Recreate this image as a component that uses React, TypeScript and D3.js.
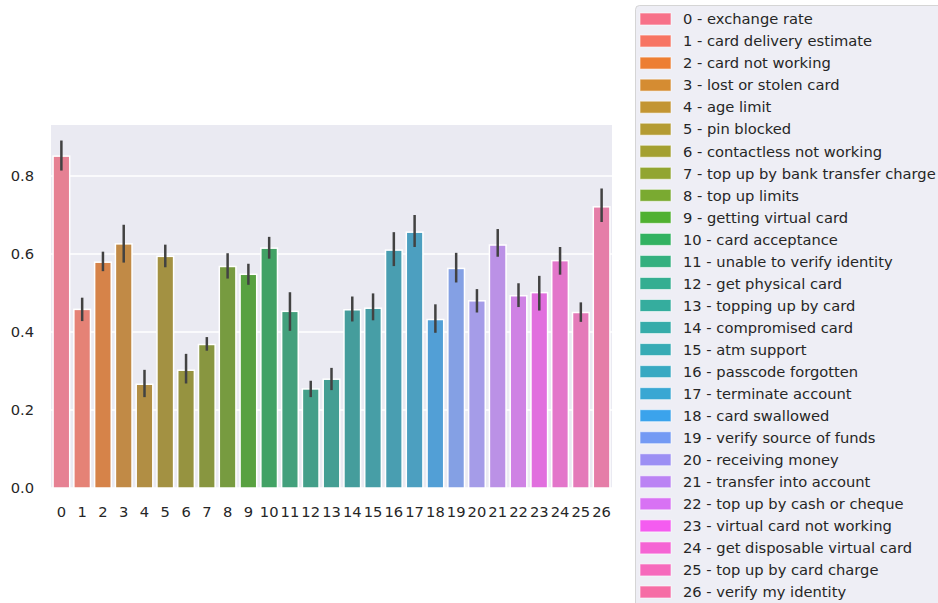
import { useEffect, useRef } from "react";
import * as d3 from "d3";

// intent labels, in category order
const labels = [
	"exchange rate",
	"card delivery estimate",
	"card not working",
	"lost or stolen card",
	"age limit",
	"pin blocked",
	"contactless not working",
	"top up by bank transfer charge",
	"top up limits",
	"getting virtual card",
	"card acceptance",
	"unable to verify identity",
	"get physical card",
	"topping up by card",
	"compromised card",
	"atm support",
	"passcode forgotten",
	"terminate account",
	"card swallowed",
	"verify source of funds",
	"receiving money",
	"transfer into account",
	"top up by cash or cheque",
	"virtual card not working",
	"get disposable virtual card",
	"top up by card charge",
	"verify my identity",
];

const means = [
	0.851, 0.458, 0.579, 0.626, 0.266, 0.594, 0.302, 0.368, 0.568, 0.548, 0.615,
	0.453, 0.254, 0.279, 0.457, 0.461, 0.61, 0.656, 0.432, 0.563, 0.48, 0.623,
	0.493, 0.501, 0.583, 0.45, 0.721,
];
const ciLow = [
	0.814, 0.428, 0.556, 0.578, 0.233, 0.566, 0.268, 0.352, 0.537, 0.521, 0.588,
	0.403, 0.233, 0.251, 0.427, 0.43, 0.569, 0.618, 0.398, 0.527, 0.45, 0.593,
	0.464, 0.455, 0.547, 0.426, 0.682,
];
const ciHigh = [
	0.891, 0.488, 0.606, 0.675, 0.303, 0.624, 0.344, 0.387, 0.602, 0.575, 0.644,
	0.502, 0.275, 0.308, 0.491, 0.499, 0.656, 0.7, 0.471, 0.603, 0.51, 0.664,
	0.525, 0.544, 0.618, 0.476, 0.768,
];
const yTicks = [0, 0.2, 0.4, 0.6, 0.8];

// --- husl (seaborn's husl_palette) ---
const M = [
	[3.2406, -1.5372, -0.4986],
	[-0.9689, 1.8758, 0.0415],
	[0.0557, -0.204, 1.057],
];
const refU = 0.19784;
const refV = 0.46834;

function maxChroma(L: number, H: number) {
	const hrad = (H / 180) * Math.PI;
	const sinH = Math.sin(hrad);
	const cosH = Math.cos(hrad);
	const sub1 = Math.pow(L + 16, 3) / 1560896;
	const sub2 = sub1 > 0.008856 ? sub1 : L / 903.3;
	let result = Infinity;
	for (const [m1, m2, m3] of M) {
		const top = (0.99915 * m1 + 1.05122 * m2 + 1.1446 * m3) * sub2;
		const rbottom = 0.8633 * m3 - 0.17266 * m2;
		const lbottom = 0.12949 * m3 - 0.38848 * m1;
		const bottom = (rbottom * sinH + lbottom * cosH) * sub2;
		for (const t of [0, 1]) {
			const C = (L * (top - 1.05122 * t)) / (bottom + 0.17266 * sinH * t);
			if (C > 0 && C < result) result = C;
		}
	}
	return result;
}

function huslToRgb(H: number, S: number, L: number) {
	const C = (maxChroma(L, H) / 100) * S;
	const hrad = (H / 180) * Math.PI;
	const U = Math.cos(hrad) * C;
	const V = Math.sin(hrad) * C;
	const t = (L + 16) / 116;
	const varY = Math.pow(t, 3) > 0.008856 ? Math.pow(t, 3) : (116 * t - 16) / 903.3;
	const varU = U / (13 * L) + refU;
	const varV = V / (13 * L) + refV;
	const Y = varY;
	const X = 0 - (9 * Y * varU) / ((varU - 4) * varV - varU * varV);
	const Z = (9 * Y - 15 * varV * Y - varV * X) / (3 * varV);
	const rgb = M.map((row) => {
		const c = row[0] * X + row[1] * Y + row[2] * Z;
		const v = c <= 0.0031308 ? 12.92 * c : 1.055 * Math.pow(c, 1 / 2.4) - 0.055;
		return Math.max(0, Math.min(1, v)) * 255;
	});
	return d3.rgb(rgb[0], rgb[1], rgb[2]);
}

const n = labels.length;
const palette = d3.range(n).map((i) => {
	const h = ((i / n + 0.01) % 1) * 359;
	return huslToRgb(h, 0.9 * 99, 0.65 * 99);
});

function desaturate(c: d3.RGBColor, prop: number) {
	const hsl = d3.hsl(c);
	hsl.s *= prop;
	return hsl.formatHex();
}

export default function App() {
	const ref = useRef<SVGSVGElement>(null);

	useEffect(() => {
		if (!ref.current) return;
		const svg = d3.select(ref.current);
		svg.selectAll("*").remove();

		const left = 51;
		const right = 612;
		const top = 125;
		const bottom = 488;
		const font = "DejaVu Sans, sans-serif";
		const fs = 14.7;

		const x = d3
			.scaleBand<number>()
			.domain(d3.range(n))
			.range([left, right])
			.paddingInner(0.2)
			.paddingOuter(0.1);
		const y = d3.scaleLinear().domain([0, 0.9308]).range([bottom, top]);

		svg
			.append("rect")
			.attr("x", left)
			.attr("y", top)
			.attr("width", right - left)
			.attr("height", bottom - top)
			.attr("fill", "#EAEAF2");

		svg
			.append("g")
			.selectAll("line")
			.data(yTicks)
			.join("line")
			.attr("x1", left)
			.attr("x2", right)
			.attr("y1", (d) => y(d))
			.attr("y2", (d) => y(d))
			.attr("stroke", "white")
			.attr("stroke-width", 1.6);

		svg
			.append("g")
			.selectAll("rect")
			.data(means)
			.join("rect")
			.attr("x", (_, i) => x(i)!)
			.attr("width", x.bandwidth())
			.attr("y", (d) => y(d))
			.attr("height", (d) => bottom - y(d))
			.attr("fill", (_, i) => desaturate(palette[i], 0.75))
			.attr("stroke", "white")
			.attr("stroke-width", 1.5);

		svg
			.append("g")
			.selectAll("line")
			.data(means)
			.join("line")
			.attr("x1", (_, i) => x(i)! + x.bandwidth() / 2)
			.attr("x2", (_, i) => x(i)! + x.bandwidth() / 2)
			.attr("y1", (_, i) => y(ciLow[i]))
			.attr("y2", (_, i) => y(ciHigh[i]))
			.attr("stroke", "#424242")
			.attr("stroke-width", 2.5);

		// y tick labels
		svg
			.append("g")
			.selectAll("text")
			.data(yTicks)
			.join("text")
			.attr("x", 34)
			.attr("y", (d) => y(d))
			.attr("dy", "0.36em")
			.attr("text-anchor", "end")
			.attr("font-family", font)
			.attr("font-size", fs)
			.attr("fill", "#262626")
			.text((d) => d3.format(".1f")(d));

		// x tick labels
		svg
			.append("g")
			.selectAll("text")
			.data(d3.range(n))
			.join("text")
			.attr("x", (d) => x(d)! + x.bandwidth() / 2)
			.attr("y", 517)
			.attr("text-anchor", "middle")
			.attr("font-family", font)
			.attr("font-size", fs)
			.attr("fill", "#262626")
			.text((d) => String(d));

		// legend
		const lg = svg.append("g");
		lg.append("rect")
			.attr("x", 635.5)
			.attr("y", 5.5)
			.attr("width", 330)
			.attr("height", 640)
			.attr("rx", 4)
			.attr("fill", "#EAEAF2")
			.attr("fill-opacity", 0.8)
			.attr("stroke", "#cccccc")
			.attr("stroke-opacity", 0.8);

		const rowY = d3.scaleLinear().domain([0, 26]).range([19, 592]);
		const item = lg
			.selectAll("g.item")
			.data(d3.range(n))
			.join("g")
			.attr("class", "item");
		item
			.append("rect")
			.attr("x", 640)
			.attr("y", (d) => rowY(d) - 6)
			.attr("width", 31)
			.attr("height", 12)
			.attr("fill", (d) => palette[d].formatHex())
			.attr("stroke", "white")
			.attr("stroke-opacity", 0.6)
			.attr("stroke-width", 1);
		item
			.append("text")
			.attr("x", 683)
			.attr("y", (d) => rowY(d))
			.attr("dy", "0.36em")
			.attr("font-family", font)
			.attr("font-size", fs)
			.attr("fill", "#262626")
			.text((d) => `${d} - ${labels[d]}`);
	}, []);

	return (
		<svg
			ref={ref}
			width={938}
			height={603}
			style={{ position: "absolute", left: 0, top: 0, background: "white" }}
		/>
	);
}
